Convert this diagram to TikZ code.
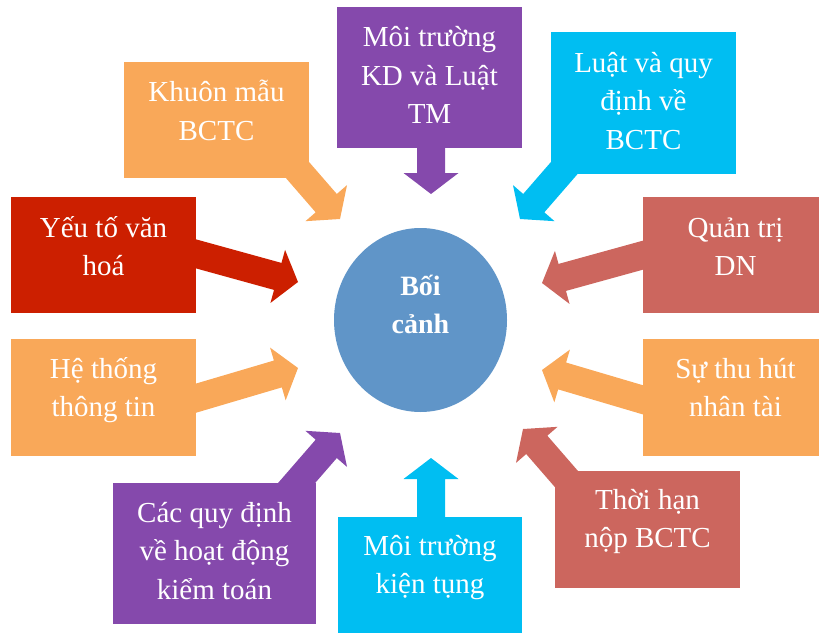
\documentclass[tikz,border=0pt]{standalone}
\usepackage{fontspec}
\setmainfont{Liberation Serif}
\usetikzlibrary{calc,shapes.geometric}

\definecolor{cOrange}{HTML}{F9A859}
\definecolor{cPurple}{HTML}{8549AC}
\definecolor{cCyan}{HTML}{00BEF2}
\definecolor{cRed}{HTML}{CC1F00}
\definecolor{cSalmon}{HTML}{CC665E}
\definecolor{cCore}{HTML}{6095C8}

% keeps the first baseline of every label at a fixed depth
\newcommand\lblstrut{\rule{0pt}{30pt}}

% fat block arrow from a start point (inside a panel) to a tip
\newcommand\calloutarrow[3]{%
  \path (#2) coordinate (arS) (#3) coordinate (arT);
  \path ($(arT)!21pt!(arS)$) coordinate (arN);
  \fill[#1] ($(arS)!14pt!90:(arT)$) -- ($(arN)!14pt!90:(arT)$)
    -- ($(arN)!27.5pt!90:(arT)$) -- (arT) -- ($(arN)!27.5pt!-90:(arT)$)
    -- ($(arN)!14pt!-90:(arT)$) -- ($(arS)!14pt!-90:(arT)$) -- cycle;}

\tikzset{
  panel/.style={rectangle, inner sep=0pt, minimum width=185pt, minimum height=116pt},
  lbl/.style={anchor=north, inner sep=0pt, align=center, text=white,
    font=\fontsize{29}{38.5}\selectfont},
  corelbl/.style={anchor=north, inner sep=0pt, align=center, text=white,
    font=\fontsize{28}{38}\selectfont\bfseries},
}

\begin{document}
\begin{tikzpicture}[x=1pt,y=-1pt]
\useasboundingbox (0,0) rectangle (819,632);
\clip (0,0) rectangle (819,632);

% centre
\node[ellipse, inner sep=0pt, minimum width=173pt, minimum height=184pt, fill=cCore] (core) at (420.5,320) {};
\node[corelbl] (corelabel) at (420.5,265) {\lblstrut Bối\\cảnh};

% start points inside the panels and arrow tips near the centre
\coordinate (s1) at (261,128);  \coordinate (t1) at (340,219);
\coordinate (s2) at (431,100);  \coordinate (t2) at (431,194);
\coordinate (s3) at (599,128);  \coordinate (t3) at (520,219);
\coordinate (s4) at (182,250);  \coordinate (t4) at (298,282);
\coordinate (s5) at (658,251);  \coordinate (t5) at (542,283);
\coordinate (s6) at (183,402);  \coordinate (t6) at (298,368);
\coordinate (s7) at (657,404);  \coordinate (t7) at (542,370);
\coordinate (s8) at (261,524);  \coordinate (t8) at (340,433);
\coordinate (s9) at (431,560);  \coordinate (t9) at (431,458);
\coordinate (s10) at (602,520); \coordinate (t10) at (523,429);

\calloutarrow{cOrange}{s1}{t1}
\calloutarrow{cPurple}{s2}{t2}
\calloutarrow{cCyan}{s3}{t3}
\calloutarrow{cRed}{s4}{t4}
\calloutarrow{cSalmon}{s5}{t5}
\calloutarrow{cOrange}{s6}{t6}
\calloutarrow{cOrange}{s7}{t7}
\calloutarrow{cPurple}{s8}{t8}
\calloutarrow{cCyan}{s9}{t9}
\calloutarrow{cSalmon}{s10}{t10}

% panels
\node[panel, fill=cOrange] (b1) at (216.5,120) {};
\node[panel, fill=cPurple, minimum height=141pt] (b2) at (429.5,77.5) {};
\node[panel, fill=cCyan, minimum height=142pt] (b3) at (643.5,103) {};
\node[panel, fill=cRed] (b4) at (103.5,255) {};
\node[panel, fill=cSalmon] (b5) at (735.5,255) {};
\node[panel, fill=cOrange, minimum height=117pt] (b6) at (103.5,397.5) {};
\node[panel, fill=cOrange, minimum height=117pt] (b7) at (735.5,397.5) {};
\node[panel, fill=cPurple, minimum width=203pt, minimum height=141pt] (b8) at (214.5,553.5) {};
\node[panel, fill=cCyan, minimum width=184pt] (b9) at (430,575) {};
\node[panel, fill=cSalmon, minimum height=117pt] (b10) at (647.5,529.5) {};

% panel texts
\node[lbl] (l1) at ($(b1.north)+(0,9.5)$) {\lblstrut Khuôn mẫu\\BCTC};
\node[lbl] (l2) at ($(b2.north)+(0,9.5)$) {\lblstrut Môi trường\\KD và Luật\\TM};
\node[lbl] (l3) at ($(b3.north)+(0,10)$) {\lblstrut Luật và quy\\định về\\BCTC};
\node[lbl] (l4) at ($(b4.north)+(0,10)$) {\lblstrut Yếu tố văn\\hoá};
\node[lbl] (l5) at ($(b5.north)+(0,10)$) {\lblstrut Quản trị\\DN};
\node[lbl] (l6) at ($(b6.north)+(0,9)$) {\lblstrut Hệ thống\\thông tin};
\node[lbl] (l7) at ($(b7.north)+(0,9)$) {\lblstrut Sự thu hút\\nhân tài};
\node[lbl] (l8) at ($(b8.north)+(0,9)$) {\lblstrut Các quy định\\về hoạt động\\kiểm toán};
\node[lbl] (l9) at ($(b9.north)+(0,8)$) {\lblstrut Môi trường\\kiện tụng};
\node[lbl] (l10) at ($(b10.north)+(0,8)$) {\lblstrut Thời hạn\\nộp BCTC};
\end{tikzpicture}
\end{document}
